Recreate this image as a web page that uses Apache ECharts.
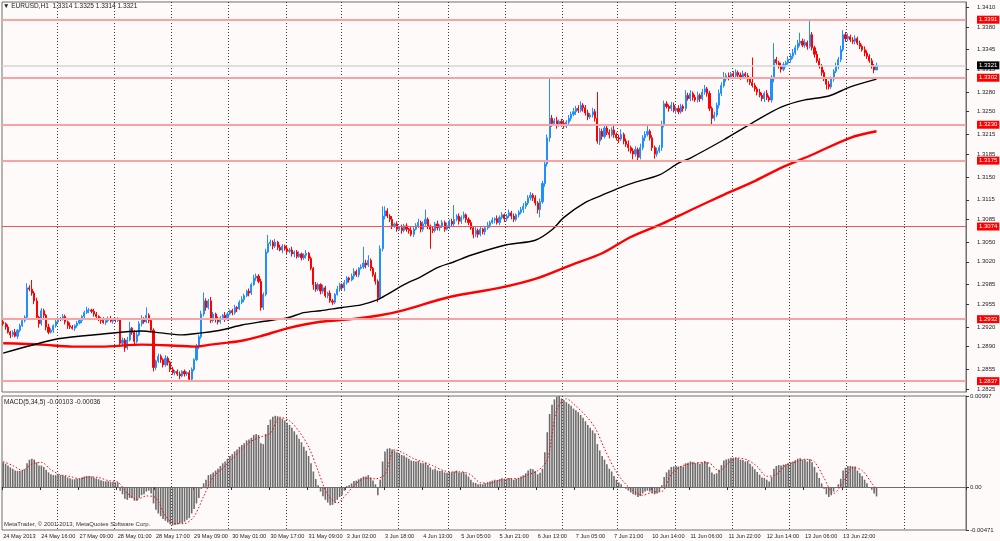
<!DOCTYPE html>
<html>
<head>
<meta charset="utf-8">
<script src="https://cdn.jsdelivr.net/npm/echarts@6/dist/echarts.min.js"></script>
<style>
html,body{margin:0;padding:0;background:#fffafa;}
#chart{width:1000px;height:541px;}
</style>
</head>
<body>
<div id="chart"></div>
<script>
// EURUSD H1, 24 May - 14 Jun 2013, MetaTrader style
var PIP = 0.0001;          // wicks are stored in pips
var MACD_UNIT = 0.00001;   // macd values stored in 1e-5

var firstOpen = 1.2928;
var closes = [
 1.2925,1.2920,1.2912,1.2908,1.2912,1.2906,1.2915,1.2922,1.2930,1.2935,1.2980,1.2978,
 1.2972,1.2960,1.2935,1.2925,1.2945,1.2938,1.2920,1.2912,1.2915,1.2922,1.2928,1.2933,
 1.2932,1.2936,1.2928,1.2922,1.2920,1.2918,1.2922,1.2926,1.2930,1.2936,1.2942,1.2946,
 1.2946,1.2944,1.2940,1.2936,1.2932,1.2930,1.2927,1.2930,1.2933,1.2929,1.2931,1.2930,
 1.2932,1.2895,1.2900,1.2888,1.2900,1.2918,1.2912,1.2898,1.2908,1.2925,1.2932,1.2928,
 1.2938,1.2930,1.2915,1.2858,1.2868,1.2875,1.2870,1.2862,1.2872,1.2866,1.2855,1.2850,
 1.2852,1.2848,1.2845,1.2852,1.2848,1.2850,1.2840,1.2855,1.2870,1.2890,1.2905,1.2940,
 1.2960,1.2950,1.2960,1.2930,1.2940,1.2932,1.2928,1.2934,1.2938,1.2932,1.2940,1.2945,
 1.2942,1.2950,1.2948,1.2958,1.2962,1.2968,1.2975,1.2972,1.2985,1.2995,1.2998,1.2990,
 1.2950,1.2970,1.3035,1.3048,1.3050,1.3044,1.3050,1.3042,1.3038,1.3044,1.3040,1.3036,
 1.3038,1.3032,1.3035,1.3028,1.3032,1.3026,1.3030,1.3033,1.3025,1.3010,1.2985,1.2978,
 1.2985,1.2975,1.2980,1.2968,1.2972,1.2960,1.2958,1.2970,1.2978,1.2985,1.2980,1.2988,
 1.2995,1.2992,1.2998,1.3005,1.3000,1.3010,1.3012,1.3018,1.3015,1.3022,1.3010,1.3000,
 1.2990,1.2965,1.3040,1.3090,1.3098,1.3090,1.3085,1.3075,1.3078,1.3070,1.3072,1.3068,
 1.3075,1.3070,1.3068,1.3062,1.3070,1.3075,1.3080,1.3070,1.3078,1.3085,1.3075,1.3070,
 1.3068,1.3078,1.3072,1.3075,1.3080,1.3070,1.3075,1.3082,1.3078,1.3085,1.3090,1.3082,
 1.3088,1.3092,1.3085,1.3080,1.3072,1.3062,1.3068,1.3062,1.3070,1.3066,1.3072,1.3076,
 1.3080,1.3084,1.3086,1.3080,1.3088,1.3092,1.3086,1.3090,1.3095,1.3090,1.3085,1.3092,
 1.3096,1.3100,1.3105,1.3110,1.3118,1.3122,1.3118,1.3110,1.3100,1.3112,1.3140,1.3170,
 1.3210,1.3240,1.3232,1.3236,1.3230,1.3235,1.3232,1.3228,1.3234,1.3240,1.3246,1.3250,
 1.3255,1.3252,1.3260,1.3256,1.3248,1.3242,1.3245,1.3250,1.3240,1.3205,1.3220,1.3212,
 1.3225,1.3218,1.3215,1.3222,1.3215,1.3210,1.3208,1.3215,1.3205,1.3200,1.3195,1.3190,
 1.3185,1.3192,1.3180,1.3195,1.3210,1.3215,1.3220,1.3210,1.3195,1.3185,1.3190,1.3195,
 1.3230,1.3262,1.3258,1.3255,1.3260,1.3252,1.3255,1.3250,1.3258,1.3255,1.3275,1.3270,
 1.3278,1.3272,1.3268,1.3275,1.3270,1.3280,1.3285,1.3278,1.3255,1.3240,1.3245,1.3260,
 1.3278,1.3290,1.3300,1.3305,1.3303,1.3308,1.3305,1.3310,1.3306,1.3303,1.3308,1.3305,
 1.3300,1.3295,1.3290,1.3285,1.3280,1.3275,1.3270,1.3278,1.3272,1.3268,1.3300,1.3330,
 1.3325,1.3320,1.3315,1.3322,1.3325,1.3330,1.3335,1.3340,1.3348,1.3355,1.3358,1.3352,
 1.3356,1.3350,1.3368,1.3348,1.3338,1.3328,1.3320,1.3310,1.3300,1.3292,1.3288,1.3300,
 1.3312,1.3320,1.3330,1.3345,1.3368,1.3362,1.3365,1.3360,1.3358,1.3362,1.3355,1.3350,
 1.3345,1.3340,1.3335,1.3328,1.3320,1.3314,1.3321
];
var wickUp = [
 3,2,4,2,3,5,2,3,4,3,7,4, 14,3,5,2,4,3,2,5,3,2,4,3, 2,4,3,2,5,3,2,3,4,2,3,5,
 3,2,4,3,2,3,5,2,3,4,2,3, 3,2,4,3,5,10,2,3,5,4,6,3, 12,3,2,3,2,4,3,2,5,3,2,4,
 2,3,4,2,3,2,4,3,2,4,3,5, 13,4,3,6,3,2,4,3,2,5,3,2, 3,4,2,3,5,3,2,4,3,5,4,3,
 4,3,5,13,4,3,5,2,4,3,2,4, 3,5,2,3,4,2,3,5,2,3,2,4, 3,2,5,3,2,4,3,2,5,3,2,4,
 3,2,4,5,3,2,4,25,5,8,3,2, 4,3,5,15,7,4,3,5,2,4,3,5, 3,4,2,5,3,4,6,3,4,15,3,2,
 4,3,5,2,4,3,5,3,4,22,3,4, 3,5,2,3,4,2,5,3,4,2,3,5, 3,4,2,5,3,4,2,3,5,3,4,2,
 3,4,5,3,4,5,3,4,3,5,4,6, 5,63,5,4,6,3,4,5,3,5,4,6, 4,5,6,3,4,5,3,6,4,40,5,4,
 6,3,5,4,6,3,5,8,3,4,6,3, 4,5,3,6,4,5,8,3,4,3,5,4, 6,5,4,3,5,4,3,5,4,3,8,4,
 5,3,4,6,3,5,6,3,4,3,5,4, 6,5,11,4,5,3,4,5,3,4,5,3, 4,3,38,4,3,5,4,3,5,3,6,25,
 4,3,5,4,3,5,4,6,4,5,13,4, 5,3,22,4,3,5,4,3,4,3,5,4, 3,5,4,6,7,4,5,3,4,5,3,4,
 3,5,4,3,4,3,4
];
var wickDown = [
 3,4,2,5,3,2,4,3,2,3,2,3, 4,5,3,6,3,4,5,3,2,4,3,2, 3,2,4,5,3,2,4,3,2,4,3,2,
 5,3,4,2,3,5,2,4,3,2,4,3, 2,5,4,6,3,2,4,5,3,2,4,3, 2,4,3,6,4,3,5,4,3,5,4,3,
 4,3,5,2,4,3,3,4,3,2,4,3, 4,5,3,4,3,5,4,3,2,4,3,2, 4,3,5,2,3,4,2,5,3,2,4,3,
 5,4,3,2,4,5,3,4,2,5,3,4, 3,4,5,3,2,4,3,5,4,3,8,4, 3,5,4,3,4,3,4,3,2,4,3,5,
 3,4,2,5,3,4,2,3,5,3,4,3, 5,7,3,4,5,3,4,5,3,4,2,5, 3,4,5,3,4,2,3,5,4,3,5,30,
 4,3,4,5,3,4,2,5,3,4,3,5, 4,3,5,4,3,6,4,5,3,4,5,3, 4,2,5,3,4,3,5,4,3,5,4,3,
 4,3,5,4,3,4,5,4,6,12,3,5, 4,6,5,4,6,3,5,4,3,5,4,3, 5,4,3,6,4,5,3,4,5,4,6,5,
 3,4,6,3,5,4,6,3,5,4,6,4, 8,4,5,3,4,5,3,4,5,7,4,3, 5,4,3,5,4,3,5,4,3,5,4,3,
 4,5,3,4,5,3,4,5,4,10,4,3, 5,4,3,4,5,3,4,3,5,4,3,4, 5,4,3,4,5,3,4,5,4,3,4,5,
 3,4,5,3,4,3,5,4,3,4,5,3, 4,5,3,4,5,3,4,5,3,8,4,3, 4,3,5,4,3,5,4,3,4,5,3,4,
 3,5,4,3,4,5,0
];

// moving averages: [bar, price]
var maBlack = [[0,1.2880],[12,1.2892],[23,1.2902],[41,1.2909],[58,1.2914],[66,1.2911],[75,1.2908],
 [83,1.2911],[91,1.2915],[100,1.2923],[108,1.2928],[119,1.2934],[126,1.2942],[133,1.2945],[142,1.2950],
 [150,1.2954],[157,1.2962],[161,1.2970],[168,1.2985],[175,1.2997],[182,1.3011],[189,1.3020],[196,1.3030],
 [211,1.3046],[223,1.3053],[230,1.3069],[235,1.3088],[244,1.3111],[251,1.3122],[258,1.3133],[265,1.3142],
 [275,1.3153],[283,1.3171],[288,1.3179],[302,1.3207],[314,1.3233],[326,1.3257],[336,1.3268],[346,1.3274],
 [355,1.3288],[366,1.3300]];
var maRed = [[0,1.2895],[16,1.2893],[29,1.2890],[41,1.2890],[58,1.2893],[75,1.2891],[81,1.2890],
 [87,1.2893],[94,1.2896],[100,1.2899],[108,1.2906],[119,1.2918],[133,1.2928],[146,1.2932],[158,1.2938],
 [168,1.2946],[187,1.2966],[208,1.2980],[224,1.2995],[238,1.3015],[251,1.3033],[263,1.3058],[276,1.3078],
 [288,1.3099],[301,1.3121],[314,1.3142],[326,1.3164],[339,1.3184],[355,1.3210],[366,1.3220]];

var macdHist = [
 270,255,235,215,200,180,175,175,185,195,260,300, 310,300,270,235,235,220,190,160,140,130,130,135,
 130,130,120,105,95,85,85,90,95,105,115,120, 120,115,105,95,85,75,65,62,62,55,55,52,
 52,-40,-80,-130,-140,-120,-120,-150,-150,-120,-90,-80, -50,-40,-70,-180,-250,-290,-320,-350,-370,-390,-410,-420,
 -415,-410,-400,-395,-380,-360,-340,-290,-240,-180,-120,-20, 40,80,130,140,160,180,200,230,260,280,310,340,
 360,390,410,440,460,480,510,520,540,570,580,570, 480,470,580,680,740,770,780,775,760,750,730,705,
 680,650,610,573,530,490,440,397,340,260,170,88, 20,-50,-100,-140,-170,-200,-195,-170,-140,-110,-90,-40,
 10,20,40,65,70,85,100,115,115,130,105,70, 30,-90,80,280,390,420,425,410,400,380,370,350,
 345,325,310,290,285,280,285,265,260,265,240,215, 190,200,180,175,180,160,155,165,160,170,180,160,
 160,165,140,115,80,50,45,30,35,30,40,50, 60,70,80,75,85,95,85,90,100,90,80,90,
 100,115,130,150,180,200,195,175,140,155,200,380, 600,800,900,960,990,997,970,950,930,910,890,860,
 840,820,790,760,720,680,650,620,590,470,400,340, 300,250,200,170,120,80,50,30,0,-20,-40,-60,
 -80,-90,-110,-100,-70,-50,-40,-50,-70,-80,-70,-50, 20,110,160,190,220,225,230,225,230,225,260,265,
 280,275,260,265,255,270,285,275,220,160,140,150, 190,240,290,300,310,320,320,325,315,300,295,280,
 285,255,225,195,165,135,105,100,80,60,110,200, 230,240,235,245,250,260,270,280,295,310,315,300,
 300,280,305,270,220,160,100,40,-20,-80,-110,-90, -50,-10,30,90,180,210,230,230,225,225,180,150,
 120,80,40,0,-30,-70,-103
];
var macdSignal = [[0,280],[4,235],[8,183],[12,250],[16,270],[20,189],[24,133],[28,116],[32,90],[36,111],
 [40,104],[44,70],[48,55],[52,-68],[56,-136],[60,-98],[64,-118],[68,-316],[72,-401],[76,-400],[80,-322],
 [84,-104],[88,110],[92,206],[96,310],[100,412],[104,502],[108,548],[112,590],[116,765],[120,725],[124,609],
 [128,439],[132,176],[136,-88],[140,-175],[144,-74],[148,41],[152,97],[156,90],[160,138],[164,409],[168,369],
 [172,311],[176,275],[180,234],[184,185],[188,164],[192,166],[196,132],[200,48],[204,43],[208,74],[212,91],
 [216,92],[220,135],[224,178],[228,295],[232,850],[236,967],[240,886],[244,786],[248,652],[252,420],[256,208],
 [260,56],[264,-40],[268,-90],[272,-56],[276,-50],[280,140],[284,226],[288,252],[292,267],[296,261],[300,172],
 [304,266],[308,318],[312,295],[316,225],[320,117],[324,136],[328,240],[332,271],[336,304],[340,275],[344,100],
 [348,-70],[352,48],[356,215],[360,180],[364,42],[366,-36]];

var timeLabels = ["24 May 2013","24 May 16:00","27 May 09:00","28 May 01:00","28 May 17:00","29 May 09:00",
 "30 May 01:00","30 May 17:00","31 May 09:00","3 Jun 02:00","3 Jun 18:00","4 Jun 13:00","5 Jun 05:00",
 "5 Jun 21:00","6 Jun 13:00","7 Jun 05:00","7 Jun 21:00","10 Jun 14:00","11 Jun 06:00","11 Jun 22:00",
 "12 Jun 14:00","13 Jun 06:00","13 Jun 22:00"];
var labelStep = 16;
var dayLines = [23,47,71,95,119,142,166,187,211,235,258,282,306,330,354,378];
var priceTicks = [1.3410,1.3380,1.3345,1.3315,1.3280,1.3250,1.3215,1.3185,1.3150,1.3115,1.3085,1.3050,
 1.3020,1.2985,1.2955,1.2920,1.2890,1.2855,1.2825];
var macdTicks = [0.00997, 0, -0.00471];
var levels = [1.3391,1.3302,1.3230,1.3175,1.3074,1.2932,1.2837];
var levelWidth = [2,2,2,2,1,2,2];
var lastPrice = 1.3321;
var slots = 404;

var FONT = 'Liberation Sans';
var cats = [];
for (var i = 0; i < slots; i++) cats.push(String(i));

var candles = [];
for (var i = 0; i < closes.length; i++) {
  var o = i ? closes[i-1] : firstOpen;
  var c = closes[i];
  var h = Math.max(o, c) + wickUp[i] * PIP;
  var l = Math.min(o, c) - wickDown[i] * PIP;
  candles.push([o, c, +l.toFixed(5), +h.toFixed(5)]);
}
var hist = macdHist.map(function (v) { return v * MACD_UNIT; });
var signal = macdSignal.map(function (p) { return [p[0], p[1] * MACD_UNIT]; });

var showLabel = function (idx) { return idx % labelStep === 0 && idx / labelStep < timeLabels.length; };
var showGrid = function (idx) { return dayLines.indexOf(idx) >= 0; };
var gridLine = { show: true, interval: showGrid, lineStyle: { color: '#3c3c3c', type: [1, 2], width: 1 } };

var levelData = levels.map(function (v, k) {
  return {
    yAxis: v,
    lineStyle: { color: levelWidth[k] > 1 ? '#f7a3a3' : '#ea5a5a', width: levelWidth[k], type: 'solid' },
    label: { backgroundColor: '#ff0000', color: '#fff' }
  };
});
levelData.push({
  yAxis: lastPrice,
  lineStyle: { color: '#d4d4d4', width: 1.5, type: 'solid' },
  label: { backgroundColor: '#000', color: '#fff' }
});

var chart = echarts.init(document.getElementById('chart'));
var option = {
  animation: false,
  backgroundColor: '#fffafa',
  textStyle: { fontFamily: FONT },
  grid: [
    { left: 2, right: 34, top: 2, height: 390, show: true, borderColor: '#6e6e6e', borderWidth: 1 },
    { left: 2, right: 34, top: 396, height: 134, show: true, borderColor: '#6e6e6e', borderWidth: 1 }
  ],
  xAxis: [
    { type: 'category', gridIndex: 0, data: cats, axisLine: { show: false }, axisTick: { show: false },
      axisLabel: { show: false }, splitLine: gridLine },
    { type: 'category', gridIndex: 1, data: cats,
      axisLine: { show: true, lineStyle: { color: '#6e6e6e' } },
      axisTick: { show: true, interval: showLabel, length: 3, lineStyle: { color: '#333' } },
      axisLabel: { interval: showLabel, align: 'left', fontSize: 5.6, color: '#222', margin: 3, fontFamily: FONT,
        formatter: function (v, idx) { return timeLabels[idx / labelStep]; } },
      splitLine: gridLine }
  ],
  yAxis: [
    { type: 'value', gridIndex: 0, position: 'right', min: 1.28204, max: 1.34181,
      axisLine: { show: true, lineStyle: { color: '#6e6e6e' } },
      axisTick: { show: true, customValues: priceTicks, length: 3, lineStyle: { color: '#333' } },
      axisLabel: { customValues: priceTicks, fontSize: 6, color: '#222', margin: 11, fontFamily: FONT,
        formatter: function (v) { return v.toFixed(4); } },
      splitLine: { show: false } },
    { type: 'value', gridIndex: 1, position: 'right', min: -0.00471, max: 0.00997,
      axisLine: { show: true, lineStyle: { color: '#6e6e6e' } },
      axisTick: { show: true, customValues: macdTicks, length: 3, lineStyle: { color: '#333' } },
      axisLabel: { customValues: macdTicks, fontSize: 6, color: '#222', margin: 4, fontFamily: FONT,
        formatter: function (v) { return v === 0 ? '0.00' : v.toFixed(5); } },
      splitLine: { show: false } }
  ],
  series: [
    { name: 'EURUSD', type: 'candlestick', xAxisIndex: 0, yAxisIndex: 0, data: candles, barWidth: 1.6,
      itemStyle: { color: '#1e90ff', color0: '#ff0000', borderColor: '#1e90ff', borderColor0: '#ff0000', borderWidth: 1 },
      markLine: { silent: true, symbol: ['none', 'none'], animation: false, precision: 4,
        label: { show: true, position: 'end', distance: 11, fontSize: 6, fontFamily: FONT, padding: [1, 2, 1, 2],
          formatter: function (p) { return p.value.toFixed(4); } },
        data: levelData } },
    { name: 'MA slow', type: 'line', xAxisIndex: 0, yAxisIndex: 0, data: maRed, smooth: 0.3, symbol: 'none',
      lineStyle: { color: '#ff0000', width: 2.4 }, z: 3 },
    { name: 'MA fast', type: 'line', xAxisIndex: 0, yAxisIndex: 0, data: maBlack, smooth: 0.3, symbol: 'none',
      lineStyle: { color: '#000', width: 1.4 }, z: 3 },
    { name: 'MACD', type: 'bar', xAxisIndex: 1, yAxisIndex: 1, data: hist, barWidth: 1.6,
      itemStyle: { color: '#6c6c6c' } },
    { name: 'Signal', type: 'line', xAxisIndex: 1, yAxisIndex: 1, data: signal, smooth: 0.3, symbol: 'none',
      lineStyle: { color: '#ff0000', width: 1, type: [1.5, 2] }, z: 4 }
  ],
  graphic: [
    { type: 'text', left: 3, top: 3, style: { text: '\u25BC EURUSD,H1  1.3314 1.3325 1.3314 1.3321',
      fontSize: 6.5, fontFamily: FONT, fill: '#222' } },
    { type: 'text', left: 4, top: 399, style: { text: 'MACD(5,34,5) -0.00103 -0.00036',
      fontSize: 6.5, fontFamily: FONT, fill: '#222' } },
    { type: 'text', left: 4, top: 521, style: { text: 'MetaTrader, \u00A9 2001-2013, MetaQuotes Software Corp.',
      fontSize: 6, fontFamily: FONT, fill: '#333' } }
  ]
};
chart.setOption(option);
</script>
</body>
</html>
